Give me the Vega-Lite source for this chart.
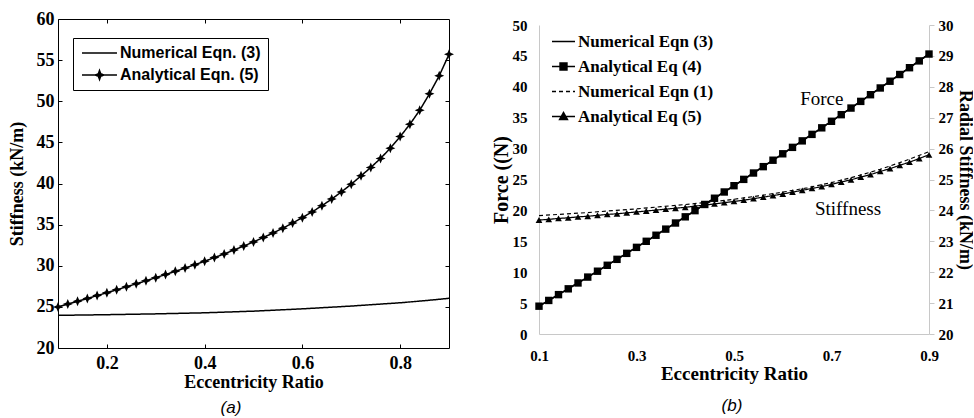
{
  "$schema": "https://vega.github.io/schema/vega-lite/v6.json",
  "padding": {"left": 7, "top": 9, "right": 0, "bottom": 0},
  "spacing": 36,
  "resolve": {"scale": {"strokeDash": "independent"}, "legend": {"strokeDash": "independent"}},
  "config": {
    "font": "Liberation Serif",
    "view": {"stroke": null},
    "axis": {"labelFont": "Liberation Serif", "labelFontWeight": "bold", "labelColor": "black", "titleFont": "Liberation Serif", "titleFontWeight": "bold", "titleColor": "black", "grid": false, "labelFlush": false, "labelOverlap": false}
  },
  "datasets": {
    "L": [
      {"e":0.1,"s":"Numerical Eqn. (3)","v":23.97},{"e":0.2,"s":"Numerical Eqn. (3)","v":24.05},{"e":0.3,"s":"Numerical Eqn. (3)","v":24.15},{"e":0.4,"s":"Numerical Eqn. (3)","v":24.28},{"e":0.5,"s":"Numerical Eqn. (3)","v":24.48},{"e":0.6,"s":"Numerical Eqn. (3)","v":24.76},{"e":0.7,"s":"Numerical Eqn. (3)","v":25.1},{"e":0.8,"s":"Numerical Eqn. (3)","v":25.5},{"e":0.85,"s":"Numerical Eqn. (3)","v":25.75},{"e":0.9,"s":"Numerical Eqn. (3)","v":26.04},
      {"e":0.1,"s":"Analytical Eqn. (5)","v":25.0},{"e":0.12,"s":"Analytical Eqn. (5)","v":25.34},{"e":0.14,"s":"Analytical Eqn. (5)","v":25.68},{"e":0.16,"s":"Analytical Eqn. (5)","v":26.02},{"e":0.18,"s":"Analytical Eqn. (5)","v":26.37},{"e":0.2,"s":"Analytical Eqn. (5)","v":26.72},{"e":0.22,"s":"Analytical Eqn. (5)","v":27.08},{"e":0.24,"s":"Analytical Eqn. (5)","v":27.44},{"e":0.26,"s":"Analytical Eqn. (5)","v":27.8},{"e":0.28,"s":"Analytical Eqn. (5)","v":28.17},{"e":0.3,"s":"Analytical Eqn. (5)","v":28.55},{"e":0.32,"s":"Analytical Eqn. (5)","v":28.93},{"e":0.34,"s":"Analytical Eqn. (5)","v":29.32},{"e":0.36,"s":"Analytical Eqn. (5)","v":29.72},{"e":0.38,"s":"Analytical Eqn. (5)","v":30.13},{"e":0.4,"s":"Analytical Eqn. (5)","v":30.55},{"e":0.42,"s":"Analytical Eqn. (5)","v":30.99},{"e":0.44,"s":"Analytical Eqn. (5)","v":31.44},{"e":0.46,"s":"Analytical Eqn. (5)","v":31.91},{"e":0.48,"s":"Analytical Eqn. (5)","v":32.39},{"e":0.5,"s":"Analytical Eqn. (5)","v":32.9},{"e":0.52,"s":"Analytical Eqn. (5)","v":33.43},{"e":0.54,"s":"Analytical Eqn. (5)","v":33.98},{"e":0.56,"s":"Analytical Eqn. (5)","v":34.57},{"e":0.58,"s":"Analytical Eqn. (5)","v":35.19},{"e":0.6,"s":"Analytical Eqn. (5)","v":35.85},{"e":0.62,"s":"Analytical Eqn. (5)","v":36.55},{"e":0.64,"s":"Analytical Eqn. (5)","v":37.3},{"e":0.66,"s":"Analytical Eqn. (5)","v":38.11},{"e":0.68,"s":"Analytical Eqn. (5)","v":38.98},{"e":0.7,"s":"Analytical Eqn. (5)","v":39.92},{"e":0.72,"s":"Analytical Eqn. (5)","v":40.93},{"e":0.74,"s":"Analytical Eqn. (5)","v":41.95},{"e":0.76,"s":"Analytical Eqn. (5)","v":43.05},{"e":0.78,"s":"Analytical Eqn. (5)","v":44.3},{"e":0.8,"s":"Analytical Eqn. (5)","v":45.7},{"e":0.82,"s":"Analytical Eqn. (5)","v":47.2},{"e":0.84,"s":"Analytical Eqn. (5)","v":48.9},{"e":0.86,"s":"Analytical Eqn. (5)","v":50.9},{"e":0.88,"s":"Analytical Eqn. (5)","v":53.1},{"e":0.9,"s":"Analytical Eqn. (5)","v":55.7}
    ],
    "RF": [
      {"e":0.1,"s":"Numerical Eqn (3)","v":4.5},{"e":0.2,"s":"Numerical Eqn (3)","v":9.21},{"e":0.3,"s":"Numerical Eqn (3)","v":14.02},{"e":0.4,"s":"Numerical Eqn (3)","v":18.96},{"e":0.5,"s":"Numerical Eqn (3)","v":24.0},{"e":0.6,"s":"Numerical Eqn (3)","v":29.16},{"e":0.7,"s":"Numerical Eqn (3)","v":34.42},{"e":0.8,"s":"Numerical Eqn (3)","v":39.81},{"e":0.9,"s":"Numerical Eqn (3)","v":45.3},
      {"e":0.1,"s":"Analytical Eq (4)","v":4.5},{"e":0.12,"s":"Analytical Eq (4)","v":5.43},{"e":0.14,"s":"Analytical Eq (4)","v":6.37},{"e":0.16,"s":"Analytical Eq (4)","v":7.31},{"e":0.18,"s":"Analytical Eq (4)","v":8.26},{"e":0.2,"s":"Analytical Eq (4)","v":9.21},{"e":0.22,"s":"Analytical Eq (4)","v":10.16},{"e":0.24,"s":"Analytical Eq (4)","v":11.12},{"e":0.26,"s":"Analytical Eq (4)","v":12.08},{"e":0.28,"s":"Analytical Eq (4)","v":13.05},{"e":0.3,"s":"Analytical Eq (4)","v":14.02},{"e":0.32,"s":"Analytical Eq (4)","v":15.0},{"e":0.34,"s":"Analytical Eq (4)","v":15.98},{"e":0.36,"s":"Analytical Eq (4)","v":16.97},{"e":0.38,"s":"Analytical Eq (4)","v":17.96},{"e":0.4,"s":"Analytical Eq (4)","v":18.96},{"e":0.42,"s":"Analytical Eq (4)","v":19.96},{"e":0.44,"s":"Analytical Eq (4)","v":20.96},{"e":0.46,"s":"Analytical Eq (4)","v":21.97},{"e":0.48,"s":"Analytical Eq (4)","v":22.98},{"e":0.5,"s":"Analytical Eq (4)","v":24.0},{"e":0.52,"s":"Analytical Eq (4)","v":25.02},{"e":0.54,"s":"Analytical Eq (4)","v":26.05},{"e":0.56,"s":"Analytical Eq (4)","v":27.08},{"e":0.58,"s":"Analytical Eq (4)","v":28.12},{"e":0.6,"s":"Analytical Eq (4)","v":29.16},{"e":0.62,"s":"Analytical Eq (4)","v":30.2},{"e":0.64,"s":"Analytical Eq (4)","v":31.25},{"e":0.66,"s":"Analytical Eq (4)","v":32.3},{"e":0.68,"s":"Analytical Eq (4)","v":33.36},{"e":0.7,"s":"Analytical Eq (4)","v":34.42},{"e":0.72,"s":"Analytical Eq (4)","v":35.49},{"e":0.74,"s":"Analytical Eq (4)","v":36.56},{"e":0.76,"s":"Analytical Eq (4)","v":37.64},{"e":0.78,"s":"Analytical Eq (4)","v":38.72},{"e":0.8,"s":"Analytical Eq (4)","v":39.81},{"e":0.82,"s":"Analytical Eq (4)","v":40.9},{"e":0.84,"s":"Analytical Eq (4)","v":41.99},{"e":0.86,"s":"Analytical Eq (4)","v":43.09},{"e":0.88,"s":"Analytical Eq (4)","v":44.19},{"e":0.9,"s":"Analytical Eq (4)","v":45.3}
    ],
    "RS": [
      {"e":0.1,"s":"Numerical Eqn (1)","v":23.83},{"e":0.15,"s":"Numerical Eqn (1)","v":23.88},{"e":0.2,"s":"Numerical Eqn (1)","v":23.93},{"e":0.25,"s":"Numerical Eqn (1)","v":23.99},{"e":0.3,"s":"Numerical Eqn (1)","v":24.05},{"e":0.35,"s":"Numerical Eqn (1)","v":24.12},{"e":0.4,"s":"Numerical Eqn (1)","v":24.19},{"e":0.45,"s":"Numerical Eqn (1)","v":24.27},{"e":0.5,"s":"Numerical Eqn (1)","v":24.36},{"e":0.55,"s":"Numerical Eqn (1)","v":24.47},{"e":0.6,"s":"Numerical Eqn (1)","v":24.59},{"e":0.65,"s":"Numerical Eqn (1)","v":24.73},{"e":0.7,"s":"Numerical Eqn (1)","v":24.9},{"e":0.75,"s":"Numerical Eqn (1)","v":25.1},{"e":0.8,"s":"Numerical Eqn (1)","v":25.33},{"e":0.85,"s":"Numerical Eqn (1)","v":25.6},{"e":0.9,"s":"Numerical Eqn (1)","v":25.9},
      {"e":0.1,"s":"Analytical Eq (5)","v":23.69},{"e":0.12,"s":"Analytical Eq (5)","v":23.71},{"e":0.14,"s":"Analytical Eq (5)","v":23.74},{"e":0.16,"s":"Analytical Eq (5)","v":23.76},{"e":0.18,"s":"Analytical Eq (5)","v":23.79},{"e":0.2,"s":"Analytical Eq (5)","v":23.81},{"e":0.22,"s":"Analytical Eq (5)","v":23.84},{"e":0.24,"s":"Analytical Eq (5)","v":23.87},{"e":0.26,"s":"Analytical Eq (5)","v":23.89},{"e":0.28,"s":"Analytical Eq (5)","v":23.92},{"e":0.3,"s":"Analytical Eq (5)","v":23.95},{"e":0.32,"s":"Analytical Eq (5)","v":23.98},{"e":0.34,"s":"Analytical Eq (5)","v":24.01},{"e":0.36,"s":"Analytical Eq (5)","v":24.04},{"e":0.38,"s":"Analytical Eq (5)","v":24.07},{"e":0.4,"s":"Analytical Eq (5)","v":24.1},{"e":0.42,"s":"Analytical Eq (5)","v":24.14},{"e":0.44,"s":"Analytical Eq (5)","v":24.17},{"e":0.46,"s":"Analytical Eq (5)","v":24.21},{"e":0.48,"s":"Analytical Eq (5)","v":24.25},{"e":0.5,"s":"Analytical Eq (5)","v":24.29},{"e":0.52,"s":"Analytical Eq (5)","v":24.33},{"e":0.54,"s":"Analytical Eq (5)","v":24.38},{"e":0.56,"s":"Analytical Eq (5)","v":24.43},{"e":0.58,"s":"Analytical Eq (5)","v":24.48},{"e":0.6,"s":"Analytical Eq (5)","v":24.53},{"e":0.62,"s":"Analytical Eq (5)","v":24.59},{"e":0.64,"s":"Analytical Eq (5)","v":24.65},{"e":0.66,"s":"Analytical Eq (5)","v":24.71},{"e":0.68,"s":"Analytical Eq (5)","v":24.77},{"e":0.7,"s":"Analytical Eq (5)","v":24.84},{"e":0.72,"s":"Analytical Eq (5)","v":24.92},{"e":0.74,"s":"Analytical Eq (5)","v":24.99},{"e":0.76,"s":"Analytical Eq (5)","v":25.08},{"e":0.78,"s":"Analytical Eq (5)","v":25.16},{"e":0.8,"s":"Analytical Eq (5)","v":25.26},{"e":0.82,"s":"Analytical Eq (5)","v":25.35},{"e":0.84,"s":"Analytical Eq (5)","v":25.46},{"e":0.86,"s":"Analytical Eq (5)","v":25.56},{"e":0.88,"s":"Analytical Eq (5)","v":25.68},{"e":0.9,"s":"Analytical Eq (5)","v":25.8}
    ],
    "ANN": [
      {"e":0.68,"v":38.1,"t":"Force"},
      {"e":0.734,"v":20.3,"t":"Stiffness"}
    ]
  },
  "hconcat": [
    {
      "width": 391,
      "height": 329,
      "data": {"name": "L"},
      "view": {"stroke": "black", "strokeWidth": 1},
      "title": {"text": "(a)", "orient": "bottom", "font": "Liberation Sans", "fontStyle": "italic", "fontWeight": "normal", "fontSize": 17, "color": "black", "offset": 9, "anchor": "middle", "frame": "bounds"},
      "layer": [
        {
          "mark": {"type": "line", "color": "black", "strokeWidth": 1.5},
          "encoding": {
            "x": {"field": "e", "type": "quantitative", "scale": {"domain": [0.1, 0.9], "nice": false, "zero": false},
                  "axis": {"orient": "bottom", "values": [0.2, 0.4, 0.6, 0.8], "tickCount": 20, "format": ".1f", "labelFontSize": 18, "labelOverlap": false, "domain": false, "tickSize": -4, "tickColor": "black", "labelPadding": 10, "title": "Eccentricity Ratio", "titleFontSize": 18, "titlePadding": 1}},
            "y": {"field": "v", "type": "quantitative", "scale": {"domain": [20, 60], "nice": false, "zero": false},
                  "axis": {"orient": "left", "values": [20, 25, 30, 35, 40, 45, 50, 55, 60], "tickCount": 20, "format": "d", "labelFontSize": 18, "labelOverlap": false, "domain": false, "tickSize": -4, "tickColor": "black", "labelPadding": 8, "title": "Stiffness (kN/m)", "titleFontSize": 18, "titlePadding": 10}},
            "strokeDash": {"field": "s", "type": "nominal",
              "scale": {"domain": ["Numerical Eqn. (3)", "Analytical Eqn. (5)"], "range": [[1, 0], [1, 0]]},
              "legend": {"title": null, "orient": "none", "legendX": 15, "legendY": 19, "strokeColor": "black", "fillColor": "white", "padding": 7,
                "labelFont": "Liberation Sans", "labelFontWeight": "bold", "labelFontSize": 16, "labelColor": "black", "symbolSize": 144, "symbolStrokeWidth": 1.5, "symbolStrokeColor": "black", "labelOffset": 24, "rowPadding": 6,
                "encode": {"symbols": {"update": {"shape": {"signal": "datum.value === 'Analytical Eqn. (5)' ? 'M-1,0H4.83M1.92,-0.75L2.12,-0.2L2.67,0L2.12,0.2L1.92,0.75L1.72,0.2L1.17,0L1.72,-0.2Z' : 'M-1,0H4.83'"}, "fill": {"value": "black"}, "stroke": {"value": "black"}, "strokeDash": {"value": [1, 0]}}}}}}
          }
        },
        {
          "transform": [{"filter": "datum.s === 'Analytical Eqn. (5)'"}],
          "mark": {"type": "point", "shape": "M0,-1L0.3,-0.3L1,0L0.3,0.3L0,1L-0.3,0.3L-1,0L-0.3,-0.3Z", "filled": true, "color": "black", "size": 100, "opacity": 1},
          "encoding": {
            "x": {"field": "e", "type": "quantitative", "scale": {"domain": [0.1, 0.9], "nice": false, "zero": false},
                  "axis": {"orient": "top", "values": [0.2, 0.4, 0.6, 0.8], "tickCount": 20, "labels": false, "domain": false, "tickSize": -4, "tickColor": "black", "title": null}},
            "y": {"field": "v", "type": "quantitative", "scale": {"domain": [20, 60], "nice": false, "zero": false},
                  "axis": {"orient": "right", "values": [25, 30, 35, 40, 45, 50, 55], "tickCount": 20, "labels": false, "domain": false, "tickSize": -4, "tickColor": "black", "title": null}}
          }
        }
      ],
      "resolve": {"axis": {"x": "independent", "y": "independent"}}
    },
    {
      "width": 390,
      "height": 315,
      "title": {"text": "(b)", "orient": "bottom", "font": "Liberation Sans", "fontStyle": "italic", "fontWeight": "normal", "fontSize": 17, "color": "black", "offset": 15, "anchor": "middle", "frame": "bounds"},
      "layer": [
        {
          "layer": [
            {
              "data": {"name": "RF"},
              "mark": {"type": "line", "color": "black", "strokeWidth": 1.5},
              "encoding": {
                "x": {"field": "e", "type": "quantitative", "scale": {"domain": [0.1, 0.9], "nice": false, "zero": false},
                      "axis": {"orient": "bottom", "values": [0.1, 0.3, 0.5, 0.7, 0.9], "tickCount": 20, "format": ".1f", "labelFontSize": 15, "labelOverlap": false, "domainColor": "#c8c8c8", "ticks": false, "labelPadding": 14, "title": "Eccentricity Ratio", "titleFontSize": 19, "titlePadding": 1}},
                "y": {"field": "v", "type": "quantitative", "scale": {"domain": [0, 50], "nice": false, "zero": false, "range": [315, 6]},
                      "axis": {"orient": "left", "values": [0, 5, 10, 15, 20, 25, 30, 35, 40, 45, 50], "tickCount": 20, "format": "d", "labelFontSize": 15, "labelOverlap": false, "domainColor": "#c8c8c8", "ticks": false, "labelPadding": 12, "title": "Force ((N)", "titleFontSize": 20, "titlePadding": 1}},
                "strokeDash": {"field": "s", "type": "nominal",
                  "scale": {"domain": ["Numerical Eqn (3)", "Analytical Eq (4)", "Numerical Eqn (1)", "Analytical Eq (5)"], "range": [[1, 0], [1, 0], [4, 3], [1, 0]]},
                  "legend": {"title": null, "orient": "none", "legendX": 12, "legendY": 10, "padding": 0,
                    "labelFont": "Liberation Serif", "labelFontWeight": "bold", "labelFontSize": 17, "labelColor": "black", "symbolSize": 529, "symbolStrokeWidth": 1.5, "symbolStrokeColor": "black", "labelOffset": 2, "rowPadding": 4,
                    "encode": {"symbols": {"update": {"shape": {"signal": "datum.value === 'Analytical Eq (4)' ? 'M-1,0H1M-0.3,-0.3H0.3V0.3H-0.3Z' : datum.value === 'Analytical Eq (5)' ? 'M-1,0H1M0,-0.34L0.34,0.26H-0.34Z' : 'M-1,0H1'"}, "fill": {"value": "black"}, "stroke": {"value": "black"}}}}}}
              }
            },
            {
              "data": {"name": "RF"},
              "transform": [{"filter": "datum.s === 'Analytical Eq (4)'"}],
              "mark": {"type": "point", "shape": "square", "filled": true, "color": "black", "size": 55, "opacity": 1},
              "encoding": {
                "x": {"field": "e", "type": "quantitative", "scale": {"domain": [0.1, 0.9], "nice": false, "zero": false}},
                "y": {"field": "v", "type": "quantitative", "scale": {"domain": [0, 50], "nice": false, "zero": false, "range": [315, 6]}}
              }
            },
            {
              "data": {"name": "ANN"},
              "mark": {"type": "text", "font": "Liberation Serif", "fontSize": 19, "fontWeight": "normal", "color": "black", "align": "center", "baseline": "middle"},
              "encoding": {
                "x": {"field": "e", "type": "quantitative", "scale": {"domain": [0.1, 0.9], "nice": false, "zero": false}},
                "y": {"field": "v", "type": "quantitative", "scale": {"domain": [0, 50], "nice": false, "zero": false, "range": [315, 6]}},
                "text": {"field": "t", "type": "nominal"}
              }
            }
          ]
        },
        {
          "layer": [
            {
              "data": {"name": "RS"},
              "mark": {"type": "line", "color": "black", "strokeWidth": 1.2},
              "encoding": {
                "x": {"field": "e", "type": "quantitative", "scale": {"domain": [0.1, 0.9], "nice": false, "zero": false}},
                "y": {"field": "v", "type": "quantitative", "scale": {"domain": [20, 30], "nice": false, "zero": false, "range": [315, 6]},
                      "axis": {"orient": "right", "values": [20, 21, 22, 23, 24, 25, 26, 27, 28, 29, 30], "tickCount": 20, "format": "d", "labelFontSize": 15, "labelOverlap": false, "domainColor": "#c8c8c8", "tickColor": "#c8c8c8", "tickSize": 5, "labelPadding": 4, "title": "Radial Stiffness (kN/m)", "titleFontSize": 18, "titleAngle": 90, "titlePadding": 2}},
                "strokeDash": {"field": "s", "type": "nominal",
                  "scale": {"domain": ["Numerical Eqn (3)", "Analytical Eq (4)", "Numerical Eqn (1)", "Analytical Eq (5)"], "range": [[1, 0], [1, 0], [4, 3], [1, 0]]},
                  "legend": {"title": null, "orient": "none", "legendX": 12, "legendY": 10, "padding": 0,
                    "labelFont": "Liberation Serif", "labelFontWeight": "bold", "labelFontSize": 17, "labelColor": "black", "symbolSize": 529, "symbolStrokeWidth": 1.5, "symbolStrokeColor": "black", "labelOffset": 2, "rowPadding": 4,
                    "encode": {"symbols": {"update": {"shape": {"signal": "datum.value === 'Analytical Eq (4)' ? 'M-1,0H1M-0.3,-0.3H0.3V0.3H-0.3Z' : datum.value === 'Analytical Eq (5)' ? 'M-1,0H1M0,-0.34L0.34,0.26H-0.34Z' : 'M-1,0H1'"}, "fill": {"value": "black"}, "stroke": {"value": "black"}}}}}}
              }
            },
            {
              "data": {"name": "RS"},
              "transform": [{"filter": "datum.s === 'Analytical Eq (5)'"}],
              "mark": {"type": "point", "shape": "triangle-up", "filled": true, "color": "black", "size": 45, "opacity": 1},
              "encoding": {
                "x": {"field": "e", "type": "quantitative", "scale": {"domain": [0.1, 0.9], "nice": false, "zero": false}},
                "y": {"field": "v", "type": "quantitative", "scale": {"domain": [20, 30], "nice": false, "zero": false, "range": [315, 6]}}
              }
            }
          ]
        }
      ],
      "resolve": {"scale": {"y": "independent"}, "axis": {"y": "independent"}}
    }
  ]
}
